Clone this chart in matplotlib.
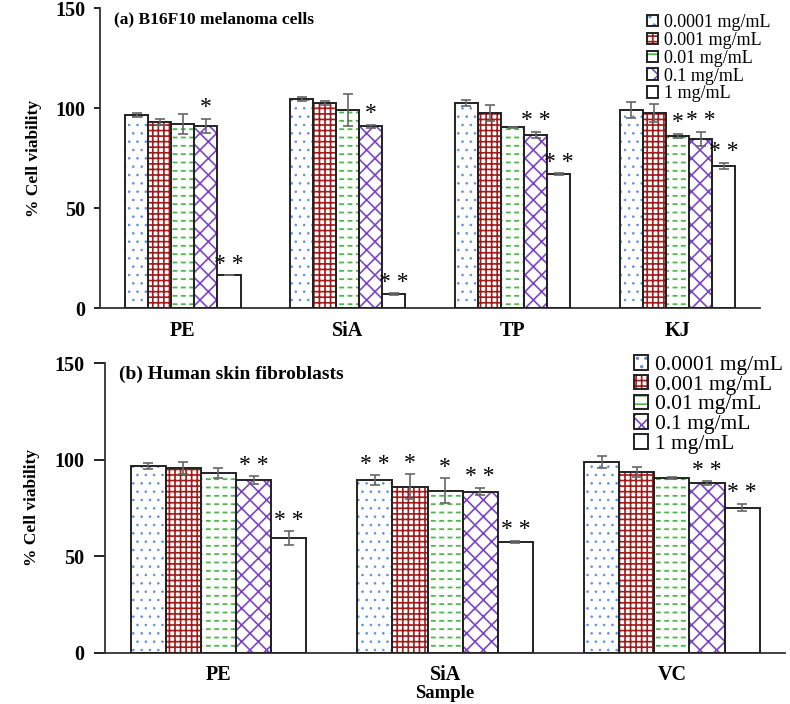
import matplotlib
matplotlib.use("Agg")
import matplotlib.pyplot as plt
import numpy as np

plt.rcParams['font.family'] = ['Liberation Serif', 'DejaVu Serif']
plt.rcParams['hatch.linewidth'] = 1.2

conc_labels = ['0.0001 mg/mL', '0.001 mg/mL', '0.01 mg/mL', '0.1 mg/mL', '1 mg/mL']

# (a) B16F10 melanoma cells, one list per concentration (PE, SiA, TP, KJ)
a_samples = ['PE', 'SiA', 'TP', 'KJ']
a_means = [
    [96.5, 104.5, 102.5, 98.8],
    [92.8, 102.5, 97.5, 97.5],
    [91.8, 99.1, 90.3, 86.0],
    [91.0, 90.8, 86.6, 84.6],
    [16.3, 7.0, 67.0, 71.0],
]
a_errs = [
    [1.2, 1.0, 1.5, 4.0],
    [1.5, 1.0, 4.0, 4.5],
    [5.0, 8.0, 0.3, 1.0],
    [3.5, 0.7, 1.5, 3.5],
    [0.0, 0.3, 0.3, 1.5],
]
a_stars = [
    ['', '', '', ''],
    ['', '', '', ''],
    ['', '', '', '*'],
    ['*', '*', '* *', '* *'],
    ['* *', '* *', '* *', '* *'],
]

# (b) Human skin fibroblasts (PE, SiA, VC)
b_samples = ['PE', 'SiA', 'VC']
b_means = [
    [96.8, 89.5, 98.7],
    [95.6, 86.0, 93.5],
    [93.0, 83.8, 90.4],
    [89.5, 83.5, 87.8],
    [59.3, 57.5, 75.2],
]
b_errs = [
    [1.5, 2.5, 3.0],
    [3.0, 6.5, 2.5],
    [2.5, 6.5, 0.5],
    [2.0, 2.0, 1.0],
    [3.5, 0.5, 2.0],
]
b_stars = [
    ['', '* *', ''],
    ['', '*', ''],
    ['', '*', ''],
    ['* *', '* *', '* *'],
    ['* *', '* *', '* *'],
]

# fill, hatch, hatch colour, hatch line width per concentration
styles = [
    ('white', '..', '#5a8ede', 0.6),
    ('white', '+++', '#a31a1a', 1.2),
    ('white', '--', '#4cb84c', 1.3),
    ('white', 'xx', '#7b45c9', 1.2),
    ('white', '', 'white', 1.0),
]


def draw_panel(ax, samples, means, errs, stars, width, title, fs_tick, fs_title, fs_lab, tick_len, lab_pad):
    x = np.arange(len(samples)) + 0.5
    n = len(means)
    handles = []
    for i in range(n):
        pos = x + (i - (n - 1) / 2) * width
        fc, hatch, hc, hlw = styles[i]
        plt.rcParams['hatch.linewidth'] = hlw
        p1 = ax.bar(pos, means[i], width, color=fc, hatch=hatch, edgecolor=hc, linewidth=0, zorder=2)
        if i == 2:
            # break the green lines into dashes
            plt.rcParams['hatch.linewidth'] = 2.5
            ax.bar(pos, means[i], width, fill=False, hatch='||', edgecolor='white', linewidth=0, zorder=2.5)
        plt.rcParams['hatch.linewidth'] = 1.2
        p2 = ax.bar(pos, means[i], width, fill=False, edgecolor='#222222', linewidth=1.4, zorder=3)
        ax.errorbar(pos, means[i], yerr=errs[i], fmt='none', ecolor='#666666', elinewidth=1.2,
                    capsize=3.5, capthick=1.2, zorder=4)
        for px, m, e, s in zip(pos, means[i], errs[i], stars[i]):
            if s:
                ax.text(px, m + e + 0.3, s, ha='center', va='bottom', fontsize=17, zorder=5)
        handles.append((p1[0], p2[0]))
    ax.set_xlim(0, len(samples))
    ax.set_ylim(0, 150)
    ax.set_yticks([0, 50, 100, 150])
    ax.set_xticks(x)
    ax.set_xticklabels(samples, fontweight='bold', fontsize=fs_tick)
    ax.tick_params(axis='x', length=0, pad=9)
    ax.tick_params(axis='y', labelsize=fs_tick, width=1.2, length=tick_len, pad=7)
    for lab in ax.get_yticklabels():
        lab.set_fontweight('bold')
    ax.spines['top'].set_visible(False)
    ax.spines['right'].set_visible(False)
    for side in ['left', 'bottom']:
        ax.spines[side].set_linewidth(1.3)
        ax.spines[side].set_color('#333333')
    ax.set_ylabel('% Cell viability', fontweight='bold', fontsize=fs_lab, labelpad=lab_pad)
    ax.text(0.02, 0.99, title, transform=ax.transAxes, fontweight='bold', fontsize=fs_title, va='top')
    return handles


fig = plt.figure(figsize=(7.9, 7.04), dpi=100)
ax1 = fig.add_axes([0.127, 0.5625, 0.835, 0.426])
ax2 = fig.add_axes([0.133, 0.073, 0.861, 0.411])

h1 = draw_panel(ax1, a_samples, a_means, a_errs, a_stars, 0.14, '(a) B16F10 melanoma cells',
                14.5, 12.5, 12.5, 4, 9)
h2 = draw_panel(ax2, b_samples, b_means, b_errs, b_stars, 0.155, '(b) Human skin fibroblasts',
                14.5, 14, 12.5, 8, 10)

ax1.legend(h1, conc_labels, loc='upper right', bbox_to_anchor=(1.04, 1.035), frameon=False,
           fontsize=13, handlelength=0.6, handleheight=0.6, handletextpad=0.3, labelspacing=0.05)
ax2.legend(h2, conc_labels, loc='upper right', bbox_to_anchor=(1.025, 1.095), frameon=False,
           fontsize=15.5, handlelength=0.65, handleheight=0.65, handletextpad=0.3, labelspacing=0.0)
ax2.set_xlabel('Sample', fontweight='bold', fontsize=13.5, labelpad=0)

fig.savefig('out.png', dpi=100)
